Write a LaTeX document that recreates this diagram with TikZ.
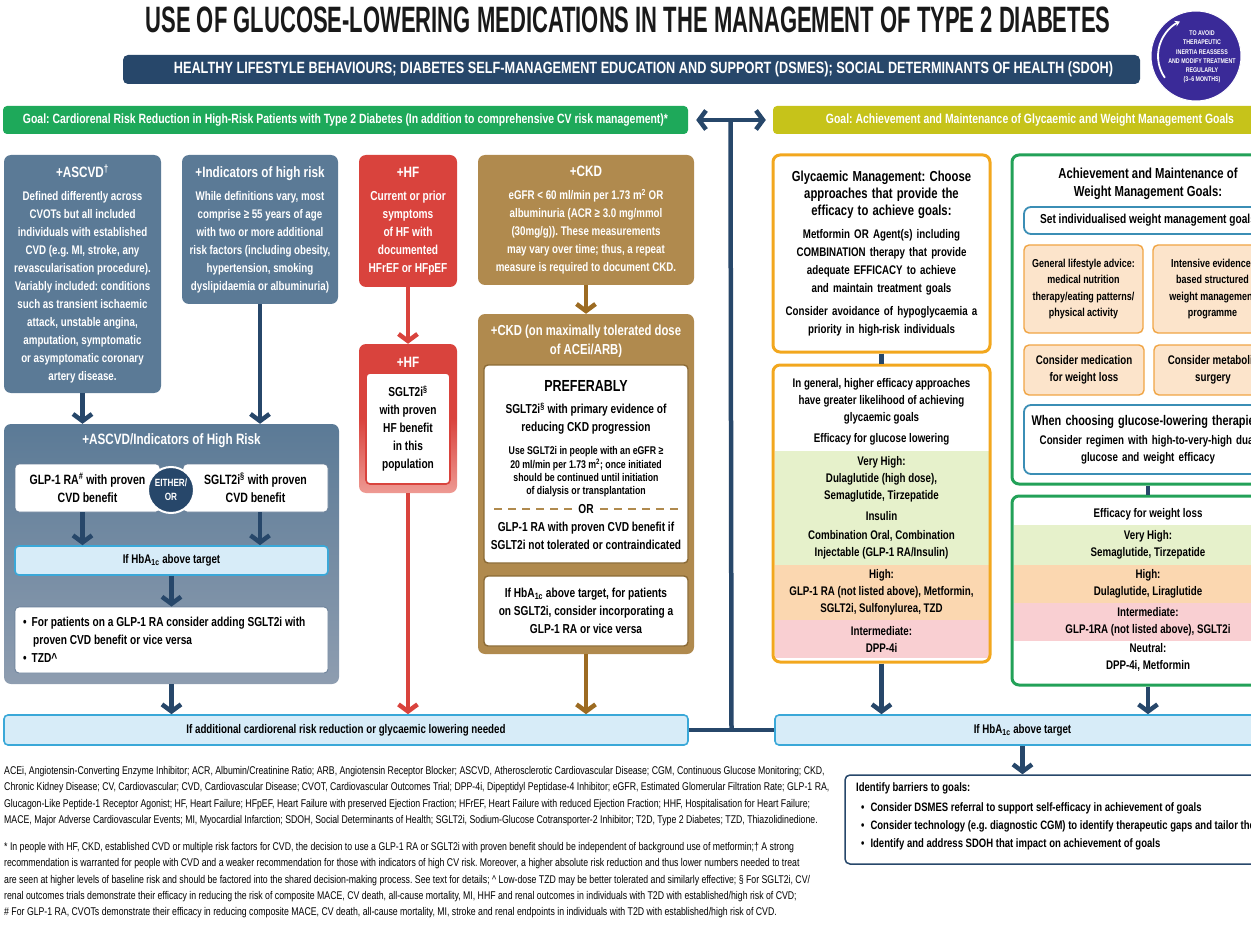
\documentclass[tikz,border=0pt]{standalone}
\usepackage{fontspec}
\setmainfont{Liberation Sans}[FakeStretch=0.78]
\newfontfamily\headfont{Liberation Sans}[FakeStretch=0.6]
\usetikzlibrary{arrows.meta,positioning,calc}

% colours
\definecolor{navy}{HTML}{27476A}
\definecolor{slate}{HTML}{5B7A96}
\definecolor{slatelight}{HTML}{8E9DB0}
\definecolor{hfred}{HTML}{D9433D}
\definecolor{hfpink}{HTML}{EE9A93}
\definecolor{ckdtan}{HTML}{B08A4E}
\definecolor{ckdarrow}{HTML}{9C6B22}
\definecolor{ckdline}{HTML}{8B6A35}
\definecolor{goalgreen}{HTML}{1EA95A}
\definecolor{goalyellow}{HTML}{C6C31A}
\definecolor{glyorange}{HTML}{F2A71E}
\definecolor{hbafill}{HTML}{D7ECF8}
\definecolor{hbaline}{HTML}{3AA8D8}
\definecolor{wtgreen}{HTML}{23A158}
\definecolor{wtblue}{HTML}{3B8EB5}
\definecolor{bandgreen}{HTML}{E6F1CB}
\definecolor{bandorange}{HTML}{FBD7B0}
\definecolor{bandpink}{HTML}{F9CFD2}
\definecolor{peach}{HTML}{FCE4CB}
\definecolor{peachline}{HTML}{F0A545}
\definecolor{inertia}{HTML}{3A2A98}

\newcommand{\hba}{HbA\textsubscript{1c}}
\newcommand{\headsize}{\fontsize{15}{18}\selectfont}

\begin{document}
\frenchspacing
\begin{tikzpicture}[
  x=1pt, y=-1pt,
  every node/.style={inner sep=0pt, font=\fontsize{12.5}{18}\selectfont\bfseries},
  arr/.style={draw=navy, line width=4.5pt, -{Straight Barb[length=7pt,width=19pt]}},
  twoway/.style={draw=navy, line width=4.5pt,
    {Straight Barb[length=7pt,width=19pt]}-{Straight Barb[length=7pt,width=19pt]}},
  link/.style={draw=navy, line width=4.5pt},
  riskbox/.style={fill=slate, rounded corners=7pt, text=white, align=center},
  hfbox/.style={fill=hfred, rounded corners=7pt, text=white, align=center},
  ckdbox/.style={fill=ckdtan, rounded corners=7pt, text=white, align=center},
  whitebox/.style={fill=white, rounded corners=4pt, align=center, text=black},
  hbabar/.style={fill=hbafill, draw=hbaline, line width=1.6pt, rounded corners=4pt},
  goalbar/.style={minimum height=28pt, rounded corners=4pt, text=white,
    font=\fontsize{13.4}{15}\selectfont\bfseries},
  glybox/.style={draw=glyorange, line width=3pt, rounded corners=7pt},
  wtbox/.style={draw=wtgreen, line width=3pt, rounded corners=7pt},
  bluebox/.style={draw=wtblue, line width=1.8pt, rounded corners=7pt, fill=white, align=center},
  peachbox/.style={fill=peach, draw=peachline, line width=1.4pt, rounded corners=5pt, align=center,
    font=\fontsize{11.5}{16.5}\selectfont\bfseries},
  effband/.style={align=center, font=\fontsize{12.5}{17}\selectfont\bfseries},
  note/.style={anchor=north west, align=left, font=\fontsize{11.2}{16.4}\selectfont\mdseries},
]
\useasboundingbox (0,0) rectangle (1251,928);
\clip (0,0) rectangle (1251,928);

% header
\node[font=\headfont\bfseries\fontsize{36.7}{37}\selectfont, text=black!90] (title) at (628,20)
  {USE OF GLUCOSE-LOWERING MEDICATIONS IN THE MANAGEMENT OF TYPE 2 DIABETES};
\node[fill=navy, rounded corners=5pt, minimum width=1017pt, minimum height=29pt, text=white,
  font=\fontsize{16.3}{18}\selectfont\bfseries] (life) at (631.5,69.5)
  {\hspace*{24pt}HEALTHY LIFESTYLE BEHAVIOURS; DIABETES SELF-MANAGEMENT EDUCATION AND SUPPORT (DSMES); SOCIAL DETERMINANTS OF HEALTH (SDOH)};
\node[circle, fill=inertia, draw=white, line width=1pt, minimum size=90pt] (inertia) at (1196,56) {};
\node[text=white, align=center, font=\fontsize{6.8}{9.3}\selectfont\bfseries] (inertiaT) at (1202,57)
  {TO AVOID\\THERAPEUTIC\\INERTIA REASSESS\\AND MODIFY TREATMENT\\REGULARLY\\(3–6 MONTHS)};
\draw[white, line width=1.8pt, -{Stealth[length=5pt,width=6pt]}]
  ([shift={(215:38pt)}]inertia.center) arc[start angle=215, end angle=115, radius=38pt];

% goals
\node[goalbar, fill=goalgreen, minimum width=685pt] (goalL) at (345.5,120)
  {Goal: Cardiorenal Risk Reduction in High-Risk Patients with Type 2 Diabetes (In addition to comprehensive CV risk management)*};
\node[goalbar, fill=goalyellow, minimum width=514pt] (goalR) at (1030,120)
  {Goal: Achievement and Maintenance of Glycaemic and Weight Management Goals};

% bottom bars
\node[hbabar, minimum width=684pt, minimum height=30pt] (needL) at (346,730)
  {If additional cardiorenal risk reduction or glycaemic lowering needed};
\node[hbabar, minimum width=495pt, minimum height=30pt] (needR) at (1022.5,730) {If \hba{} above target};

\coordinate (spineTop) at ($(goalL.east)!0.5!(goalR.west)$);
\coordinate (spineBot) at ($(needL.east)!0.5!(needR.west)$);
\draw[link] (spineTop) -- (spineBot);
\draw[link] (needL) -- (needR);
\draw[twoway, shorten <=8pt, shorten >=7pt] (goalL) -- (goalR);

% cardiorenal side
\node[riskbox, minimum width=157pt, minimum height=238pt] (ascvd) at (82.5,274)
  {{\headsize +ASCVD\textsuperscript{†}}\\[5pt]
   Defined differently across\\CVOTs but all included\\individuals with established\\
   CVD (e.g. MI, stroke, any\\revascularisation procedure).\\Variably included: conditions\\
   such as transient ischaemic\\attack, unstable angina,\\amputation, symptomatic\\
   or asymptomatic coronary\\artery disease.};
\node[riskbox, minimum width=156pt, minimum height=149pt] (ind) at (260,229.5)
  {{\headsize +Indicators of high risk}\\[5pt]
   While definitions vary, most\\comprise ≥ 55 years of age\\with two or more additional\\
   risk factors (including obesity,\\hypertension, smoking\\dyslipidaemia or albuminuria)};
\node[hfbox, minimum width=98pt, minimum height=132pt, font=\fontsize{13}{18}\selectfont\bfseries]
  (hf) at (408,221)
  {{\headsize +HF}\\[5pt]Current or prior\\symptoms\\of HF with\\documented\\HFrEF or HFpEF};
\node[ckdbox, minimum width=216pt, minimum height=130pt] (ckd) at (586,220)
  {{\headsize +CKD}\\[5pt]
   eGFR < 60 ml/min per 1.73 m\textsuperscript{2} OR\\albuminuria (ACR ≥ 3.0 mg/mmol\\
   (30mg/g)). These measurements\\may vary over time; thus, a repeat\\
   measure is required to document CKD.};

% ASCVD / indicators of high risk
\node[rounded corners=7pt, top color=slate, bottom color=slatelight, minimum width=335pt,
  minimum height=260pt] (ascind) at (171.5,554) {};
\node[text=white, font=\headsize\bfseries] (ascindT) at (171.5,441) {+ASCVD/Indicators of High Risk};
\node[whitebox, draw=navy!70, line width=0.8pt, minimum width=145pt, minimum height=48pt,
  font=\fontsize{13.5}{18}\selectfont\bfseries] (glp) at (87.5,488)
  {GLP-1 RA\textsuperscript{\#} with proven\\CVD benefit};
\node[whitebox, draw=navy!70, line width=0.8pt, minimum width=145pt, minimum height=48pt,
  font=\fontsize{13.5}{18}\selectfont\bfseries] (sglt) at (255.5,488)
  {SGLT2i\textsuperscript{§} with proven\\CVD benefit};
\node[circle, fill=navy, draw=white, line width=2pt, minimum size=46pt, text=white, align=center,
  font=\fontsize{10.5}{14}\selectfont\bfseries] (either) at (171,490) {EITHER/\\OR};
\node[hbabar, minimum width=313pt, minimum height=29pt] (hbaL) at (171.5,560.5) {If \hba{} above target};
\node[whitebox, draw=navy!70, line width=0.8pt, minimum width=313pt, minimum height=66pt] (addon) at (171.5,640) {};
\node[anchor=west, align=left, font=\fontsize{13}{18}\selectfont\bfseries] (addonT) at (23,640)
  {\textbullet\hspace{5pt}For patients on a GLP-1 RA consider adding SGLT2i with\\
   \hspace*{10pt}proven CVD benefit or vice versa\\\textbullet\hspace{5pt}TZD\textasciicircum};

\draw[arr] (ascvd.south) -- (ascvd.south |- ascind.north);
\draw[arr] (ind.south) -- (ind.south |- ascind.north);
\draw[arr] (ascvd.south |- glp.south) -- (ascvd.south |- hbaL.north);
\draw[arr] (ind.south |- sglt.south) -- (ind.south |- hbaL.north);
\draw[arr] (hbaL) -- (addon);
\draw[arr] (ascind.south) -- (ascind.south |- needL.north);

% heart failure
\node[rounded corners=7pt, top color=hfred, bottom color=hfpink, middle color=hfred,
  minimum width=98pt, minimum height=149pt] (hf2) at (408,418.5) {};
\node[text=white, font=\headsize\bfseries] (hf2T) at (408,362) {+HF};
\node[whitebox, draw=hfred, line width=1.6pt, minimum width=84pt, minimum height=111pt,
  font=\fontsize{13}{18}\selectfont\bfseries] (hfin) at (408,428.5)
  {SGLT2i\textsuperscript{§}\\with proven\\HF benefit\\in this\\population};
\draw[arr, draw=hfred] (hf) -- (hf2);
\draw[arr, draw=hfred] (hf2.south) -- (hf2.south |- needL.north);

% chronic kidney disease
\node[ckdbox, minimum width=216pt, minimum height=340pt] (ckd2) at (586,484) {};
\node[text=white, align=center, font=\fontsize{14.5}{19}\selectfont\bfseries] (ckd2T) at (586,341)
  {+CKD (on maximally tolerated dose\\of ACEi/ARB)};
\node[whitebox, draw=ckdline, line width=1.4pt, minimum width=204pt, minimum height=198pt] (ckdin) at (586,464) {};
\node[font=\fontsize{16}{18}\selectfont\bfseries] (pref) at (586,386) {PREFERABLY};
\node[align=center, font=\fontsize{13}{18}\selectfont\bfseries] (prim) at (586,419)
  {SGLT2i\textsuperscript{§} with primary evidence of\\reducing CKD progression};
\node[align=center, font=\fontsize{11.2}{13.4}\selectfont\bfseries] (egfr) at (586,472)
  {Use SGLT2i in people with an eGFR ≥\\20 ml/min per 1.73 m\textsuperscript{2}; once initiated\\
   should be continued until initiation\\of dialysis or transplantation};
\node[font=\fontsize{13}{18}\selectfont\bfseries] (orsep) at (586,509) {OR};
\draw[ckdtan, line width=1.3pt, dash pattern=on 8pt off 6pt]
  ($(orsep.west)+(-6,0)$) -- ($(ckdin.west |- orsep.west)+(10,0)$);
\draw[ckdtan, line width=1.3pt, dash pattern=on 8pt off 6pt]
  ($(orsep.east)+(6,0)$) -- ($(ckdin.east |- orsep.east)+(-10,0)$);
\node[align=center, font=\fontsize{13}{18}\selectfont\bfseries] (glpif) at (586,536)
  {GLP-1 RA with proven CVD benefit if\\SGLT2i not tolerated or contraindicated};
\node[whitebox, draw=ckdline, line width=1.4pt, minimum width=204pt, minimum height=70pt,
  font=\fontsize{13}{18}\selectfont\bfseries] (ckdadd) at (586,611)
  {If \hba{} above target, for patients\\on SGLT2i, consider incorporating a\\GLP-1 RA or vice versa};
\draw[arr, draw=ckdarrow] (ckd) -- (ckd2);
\draw[arr, draw=ckdarrow] (ckd2.south) -- (ckd2.south |- needL.north);

% glycaemic management
\node[glybox, fill=white, minimum width=217pt, minimum height=197pt, text width=211pt, align=center]
  (glyc) at (881.5,253.5)
  {{\fontsize{14.5}{17}\selectfont Glycaemic Management: Choose\\approaches that provide the\\
    efficacy to achieve goals:\par}\vspace{5pt}
   Metformin OR Agent(s) including\\COMBINATION therapy that provide\\adequate EFFICACY to achieve\\
   and maintain treatment goals\par\vspace{5pt}
   Consider avoidance of hypoglycaemia a\\priority in high-risk individuals};
\node[effband, font=\fontsize{12.5}{17}\selectfont\bfseries] (glyeffT) at (881.5,412)
  {In general, higher efficacy approaches\\have greater likelihood of achieving\\glycaemic goals\\[4pt]
   Efficacy for glucose lowering};
\node[effband, fill=bandgreen, minimum width=214pt, minimum height=114pt] (gvh) at (881.5,508)
  {Very High:\\Dulaglutide (high dose),\\Semaglutide, Tirzepatide\\[4pt]Insulin\\[2pt]
   Combination Oral, Combination\\Injectable (GLP-1 RA/Insulin)};
\node[effband, fill=bandorange, minimum width=214pt, minimum height=55pt] (ghigh) at (881.5,592.5)
  {High:\\GLP-1 RA (not listed above), Metformin,\\SGLT2i, Sulfonylurea, TZD};
\node[effband, fill=bandpink, minimum width=214pt, minimum height=38pt] (gmid) at (881.5,639)
  {Intermediate:\\DPP-4i};
\node[glybox, minimum width=217pt, minimum height=297pt] (glyeff) at (881.5,513.5) {};
\draw[link] (glyc) -- (glyeff);
\draw[arr] (glyeff.south) -- (glyeff.south |- needR.north);

% weight management
\node[wtbox, minimum width=272pt, minimum height=329pt] (wt) at (1148,319.5) {};
\node[align=center, font=\fontsize{14.5}{18}\selectfont\bfseries] (wtT) at (1148,184)
  {Achievement and Maintenance of\\Weight Management Goals:};
\node[bluebox, minimum width=248pt, minimum height=27pt, font=\fontsize{13}{18}\selectfont\bfseries]
  (setgoal) at (1148,220.5) {Set individualised weight management goals};
\node[peachbox, minimum width=119pt, minimum height=88pt] (lifestyle) at (1083.5,289)
  {General lifestyle advice:\\medical nutrition\\therapy/eating patterns/\\physical activity};
\node[peachbox, minimum width=119pt, minimum height=88pt] (intensive) at (1212.5,289)
  {Intensive evidence-\\based structured\\weight management\\programme};
\node[peachbox, minimum width=120pt, minimum height=50pt, font=\fontsize{12.5}{17}\selectfont\bfseries]
  (medic) at (1084,370) {Consider medication\\for weight loss};
\node[peachbox, minimum width=118pt, minimum height=50pt, font=\fontsize{12.5}{17}\selectfont\bfseries]
  (surgery) at (1213,370) {Consider metabolic\\surgery};
\node[bluebox, minimum width=248pt, minimum height=69pt, text width=244pt,
  font=\fontsize{12.5}{17}\selectfont\bfseries] (choose) at (1148,439.5)
  {{\fontsize{14}{18}\selectfont When choosing glucose-lowering therapies:\par}\vspace{2pt}
   Consider regimen with high-to-very-high dual\\glucose and weight efficacy};

\node[effband] (wteffT) at (1148,514) {Efficacy for weight loss};
\node[effband, fill=bandgreen, minimum width=269pt, minimum height=40pt] (wvh) at (1148,545)
  {Very High:\\Semaglutide, Tirzepatide};
\node[effband, fill=bandorange, minimum width=269pt, minimum height=38pt] (whigh) at (1148,584)
  {High:\\Dulaglutide, Liraglutide};
\node[effband, fill=bandpink, minimum width=269pt, minimum height=38pt] (wmid) at (1148,622)
  {Intermediate:\\GLP-1RA (not listed above), SGLT2i};
\node[effband] (wneutral) at (1148,657.5) {Neutral:\\DPP-4i, Metformin};
\node[wtbox, minimum width=272pt, minimum height=189pt] (wteff) at (1148,590.5) {};
\draw[link] (wt) -- (wteff);
\draw[arr] (wteff.south) -- (wteff.south |- needR.north);

% barriers
\node[whitebox, draw=navy, line width=1.5pt, rounded corners=5pt, minimum width=445pt,
  minimum height=89pt] (barriers) at (1067.5,819.5) {};
\node[anchor=north west, align=left, font=\fontsize{12.2}{18}\selectfont\bfseries] (barriersT) at (856,782)
  {Identify barriers to goals:\\[2pt]
   \hspace*{5pt}\textbullet\hspace{6pt}Consider DSMES referral to support self-efficacy in achievement of goals\\
   \hspace*{5pt}\textbullet\hspace{6pt}Consider technology (e.g. diagnostic CGM) to identify therapeutic gaps and tailor therapy\\
   \hspace*{5pt}\textbullet\hspace{6pt}Identify and address SDOH that impact on achievement of goals};
\draw[arr] (needR.south) -- (needR.south |- barriers.north);

% footnotes
\node[note] (abbrev) at (4,766)
  {ACEi, Angiotensin-Converting Enzyme Inhibitor; ACR, Albumin/Creatinine Ratio; ARB, Angiotensin Receptor Blocker; ASCVD, Atherosclerotic Cardiovascular Disease; CGM, Continuous Glucose Monitoring; CKD,\\
   Chronic Kidney Disease; CV, Cardiovascular; CVD, Cardiovascular Disease; CVOT, Cardiovascular Outcomes Trial; DPP-4i, Dipeptidyl Peptidase-4 Inhibitor; eGFR, Estimated Glomerular Filtration Rate; GLP-1 RA,\\
   Glucagon-Like Peptide-1 Receptor Agonist; HF, Heart Failure; HFpEF, Heart Failure with preserved Ejection Fraction; HFrEF, Heart Failure with reduced Ejection Fraction; HHF, Hospitalisation for Heart Failure;\\
   MACE, Major Adverse Cardiovascular Events; MI, Myocardial Infarction; SDOH, Social Determinants of Health; SGLT2i, Sodium-Glucose Cotransporter-2 Inhibitor; T2D, Type 2 Diabetes; TZD, Thiazolidinedione.};
\node[note] (stars) at (4,842)
  {* In people with HF, CKD, established CVD or multiple risk factors for CVD, the decision to use a GLP-1 RA or SGLT2i with proven benefit should be independent of background use of metformin;† A strong\\
   recommendation is warranted for people with CVD and a weaker recommendation for those with indicators of high CV risk. Moreover, a higher absolute risk reduction and thus lower numbers needed to treat\\
   are seen at higher levels of baseline risk and should be factored into the shared decision-making process. See text for details; \textasciicircum{} Low-dose TZD may be better tolerated and similarly effective; § For SGLT2i, CV/\\
   renal outcomes trials demonstrate their efficacy in reducing the risk of composite MACE, CV death, all-cause mortality, MI, HHF and renal outcomes in individuals with T2D with established/high risk of CVD;\\
   \# For GLP-1 RA, CVOTs demonstrate their efficacy in reducing composite MACE, CV death, all-cause mortality, MI, stroke and renal endpoints in individuals with T2D with established/high risk of CVD.};
\end{tikzpicture}
\end{document}
